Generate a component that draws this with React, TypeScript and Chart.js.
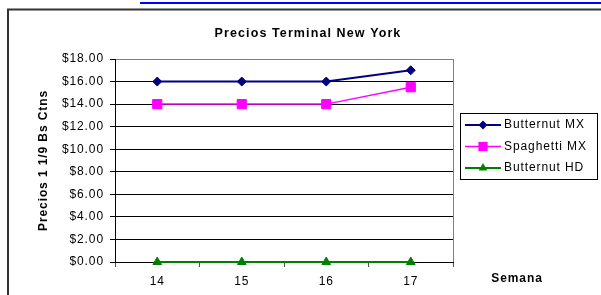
import React, { useEffect, useRef } from "react";
import { Chart, registerables } from "chart.js";

Chart.register(...registerables);

const FONT = "'Liberation Sans', Arial, sans-serif";

const weeks = ["14", "15", "16", "17"];
const butternutMX = [16, 16, 16, 17];
const spaghettiMX = [14, 14, 14, 15.5];
const butternutHD = [0, 0, 0, 0];
const seriesNames = ["Butternut MX", "Spaghetti MX", "Butternut HD"];
const chartTitle = "Precios Terminal New York";
const yTitle = "Precios 1 1/9 Bs Ctns";
const xTitle = "Semana";

function drawPt(ctx: any, style: string, r: number, x: number, y: number) {
  ctx.beginPath();
  if (style === "rectRot") {
    ctx.moveTo(x, y - r);
    ctx.lineTo(x + r, y);
    ctx.lineTo(x, y + r);
    ctx.lineTo(x - r, y);
    ctx.closePath();
  } else if (style === "rect") {
    const s = Math.SQRT1_2 * r;
    ctx.rect(x - s, y - s, 2 * s, 2 * s);
  } else {
    const c = Math.cos(Math.PI / 6) * r;
    const sn = Math.sin(Math.PI / 6) * r;
    ctx.moveTo(x, y - r);
    ctx.lineTo(x + c, y + sn);
    ctx.lineTo(x - c, y + sn);
    ctx.closePath();
  }
  ctx.fill();
}

const decorPlugin = {
  id: "decor",
  beforeDraw(chart: any) {
    (chart.ctx as any).letterSpacing = "0.9px";
  },
  afterDraw(chart: any) {
    const ctx = chart.ctx;
    const area = chart.chartArea;
    ctx.save();
    // link underline at top
    ctx.fillStyle = "#0000ff";
    ctx.fillRect(140, 2, 461, 2);
    // outer border
    ctx.strokeStyle = "#333";
    ctx.lineWidth = 2;
    ctx.beginPath();
    ctx.moveTo(8, 300);
    ctx.lineTo(8, 9.5);
    ctx.lineTo(610, 9.5);
    ctx.stroke();
    ctx.lineWidth = 1;
    // plot area right border
    ctx.strokeStyle = "#808080";
    ctx.beginPath();
    ctx.moveTo(Math.round(area.right) + 0.5, area.top);
    ctx.lineTo(Math.round(area.right) + 0.5, area.bottom);
    ctx.stroke();
    // title
    ctx.fillStyle = "#000";
    ctx.letterSpacing = "1.1px";
    ctx.font = "bold 12.5px " + FONT;
    ctx.textAlign = "center";
    ctx.textBaseline = "middle";
    ctx.fillText(chartTitle, 308, 34);
    // x title
    ctx.letterSpacing = "0.9px";
    ctx.font = "bold 12px " + FONT;
    ctx.fillText(xTitle, 517, 279);
    // legend
    const lx = 460, ly = 113, lw = 137, lh = 66;
    ctx.fillStyle = "#fff";
    ctx.fillRect(lx, ly, lw, lh);
    ctx.strokeStyle = "#000";
    ctx.strokeRect(lx + 0.5, ly + 0.5, lw, lh);
    const rows = [125, 146.5, 168];
    chart.data.datasets.forEach((ds: any, i: number) => {
      const y = rows[i];
      ctx.strokeStyle = ds.borderColor;
      ctx.lineWidth = ds.borderWidth;
      ctx.beginPath();
      ctx.moveTo(465, y);
      ctx.lineTo(501, y);
      ctx.stroke();
      ctx.fillStyle = ds.pointBackgroundColor;
      drawPt(ctx, ds.pointStyle, ds.pointRadius, 483, y);
      ctx.fillStyle = "#000";
      ctx.font = "12px " + FONT;
      ctx.textAlign = "left";
      ctx.textBaseline = "middle";
      ctx.fillText(ds.label, 504, y);
    });
    ctx.restore();
  },
};

export default function App() {
  const ref = useRef<HTMLCanvasElement>(null);
  useEffect(() => {
    const chart = new Chart(ref.current as HTMLCanvasElement, {
      type: "line",
      data: {
        labels: weeks,
        datasets: [
          {
            label: seriesNames[0],
            data: butternutMX,
            borderColor: "#000080",
            backgroundColor: "#000080",
            pointBackgroundColor: "#000080",
            pointBorderColor: "#000080",
            borderWidth: 2,
            pointStyle: "rectRot",
            pointRadius: 4.5,
            pointBorderWidth: 1,
            clip: false,
          },
          {
            label: seriesNames[1],
            data: spaghettiMX,
            borderColor: "#ff00ff",
            backgroundColor: "#ff00ff",
            pointBackgroundColor: "#ff00ff",
            pointBorderColor: "#ff00ff",
            borderWidth: 1.5,
            pointStyle: "rect",
            pointRadius: 6.5,
            pointBorderWidth: 1,
            clip: false,
          },
          {
            label: seriesNames[2],
            data: butternutHD,
            borderColor: "#008000",
            backgroundColor: "#008000",
            pointBackgroundColor: "#008000",
            pointBorderColor: "#008000",
            borderWidth: 2,
            pointStyle: "triangle",
            pointRadius: 5,
            pointBorderWidth: 1,
            clip: false,
          },
        ] as any,
      },
      options: {
        responsive: false,
        animation: false,
        layout: { padding: { left: 30, top: 59, right: 148, bottom: 0 } },
        plugins: {
          legend: { display: false },
          title: { display: false },
          tooltip: { enabled: false },
        },
        scales: {
          x: {
            type: "category",
            offset: true,
            afterFit: (s: any) => {
              s.height = 33;
            },
            grid: {
              offset: true,
              drawOnChartArea: false,
              drawTicks: true,
              tickLength: 5,
              color: "#555",
            },
            border: { display: true, color: "#000", width: 1 },
            ticks: {
              color: "#000",
              font: { family: FONT, size: 12 },
              padding: 7,
              maxRotation: 0,
            },
          },
          y: {
            min: 0,
            max: 18,
            afterFit: (s: any) => {
              s.width = 85;
            },
            grid: {
              color: (c: any) => (c.tick && c.tick.value === 18 ? "#808080" : "#000"),
              tickColor: "#000",
              tickLength: 5,
              drawTicks: true,
            },
            border: { display: true, color: "#000", width: 1 },
            ticks: {
              stepSize: 2,
              color: "#000",
              padding: 6,
              font: { family: FONT, size: 12 },
              callback: (v: any) => "$" + Number(v).toFixed(2),
            },
            title: {
              display: true,
              text: yTitle,
              color: "#000",
              font: { family: FONT, size: 12, weight: "bold" },
              padding: { top: 6, bottom: 0 },
            },
          },
        },
      },
      plugins: [decorPlugin],
    } as any);
    return () => chart.destroy();
  }, []);
  return (
    <div style={{ position: "fixed", left: 0, top: 0, width: 601, height: 295, background: "#fff" }}>
      <canvas ref={ref} width={601} height={295} style={{ display: "block" }} />
    </div>
  );
}
